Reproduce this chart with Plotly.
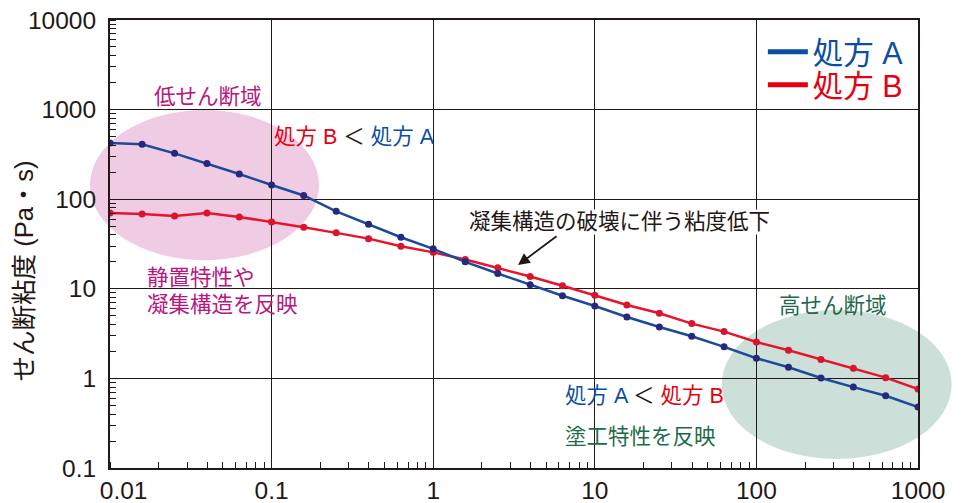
import plotly.graph_objects as go

# shear rate (1/s)
shear_rate = [0.01, 0.0158, 0.0251, 0.0398, 0.0631, 0.1, 0.158, 0.251, 0.398, 0.631,
              1, 1.58, 2.51, 3.98, 6.31, 10, 15.8, 25.1, 39.8, 63.1,
              100, 158, 251, 398, 631, 1000]
# viscosity (Pa·s)
visc_a = [425, 410, 325, 250, 191, 144, 110, 73.3, 52.6, 37.6,
          27.9, 20.0, 14.8, 11.1, 8.37, 6.43, 4.84, 3.75, 2.95, 2.25,
          1.68, 1.33, 1.01, 0.80, 0.64, 0.48]
visc_b = [70.3, 68.5, 65.1, 70.3, 63.4, 55.8, 48.6, 42.1, 36.3, 29.8,
          25.5, 21.2, 17.2, 13.7, 10.8, 8.45, 6.59, 5.33, 4.09, 3.33,
          2.55, 2.06, 1.63, 1.30, 1.02, 0.76]
x_ticks = [0.01, 0.1, 1, 10, 100, 1000]
x_labels = ["\u00a0\u00a0\u00a0\u00a00.01", "0.1", "1", "10", "100", "1000"]
y_ticks = [0.1, 1, 10, 100, 1000, 10000]
y_labels = ["0.1", "1", "10", "100", "1000", "10000"]

BLUE = "#1B4A9A"
BLUE_DOT = "#26287C"
RED = "#E8142C"
RED_DOT = "#D9142E"
MAGENTA = "#B8177E"
GREEN = "#1D6A4B"
INK = "#231815"
FONT = "Liberation Sans, Noto Sans CJK JP, sans-serif"

fig = go.Figure()
fig.add_trace(go.Scatter(x=shear_rate, y=visc_b, mode="lines+markers", showlegend=False,
                         line=dict(color=RED, width=2.5), marker=dict(color=RED_DOT, size=7)))
fig.add_trace(go.Scatter(x=shear_rate, y=visc_a, mode="lines+markers", showlegend=False,
                         line=dict(color=BLUE, width=2.5), marker=dict(color=BLUE_DOT, size=7)))
# legend-only entries (line sample only), one legend box each
fig.add_trace(go.Scatter(x=[None], y=[None], mode="lines", name="<span style='color:#0B4EA2'>処方 A</span>",
                         line=dict(color="#0B4EA2", width=5), legend="legend"))
fig.add_trace(go.Scatter(x=[None], y=[None], mode="lines", name="<span style='color:#E60012'>処方 B</span>",
                         line=dict(color="#E60012", width=5), legend="legend2"))

# shaded regions
fig.add_shape(type="circle", xref="paper", yref="paper", layer="below",
              x0=-0.0248, x1=0.2587, y0=0.464, y1=0.799,
              fillcolor="#EFCCE4", line=dict(width=0))
fig.add_shape(type="circle", xref="paper", yref="paper", layer="below",
              x0=0.757, x1=1.0417, y0=0.020, y1=0.3527,
              fillcolor="#CCDFD8", line=dict(width=0))

def note(text, x, y, color=INK, xanchor="center", bg=None):
    fig.add_annotation(text=text, x=x, y=y, xref="paper", yref="paper", showarrow=False,
                       xanchor=xanchor, yanchor="middle", bgcolor=bg, borderpad=0,
                       font=dict(family=FONT, size=21.5, color=color))

note("低せん断域", 0.121, 0.828, MAGENTA)
note("<span style='color:#E60012'>処方 B</span> ＜ <span style='color:#0B4EA2'>処方 A</span>", 0.302, 0.739)
note("凝集構造の破壊に伴う粘度低下", 0.630, 0.549, INK, bg="white")
note("静置特性や", 0.0446, 0.424, MAGENTA, xanchor="left")
note("凝集構造を反映", 0.0446, 0.364, MAGENTA, xanchor="left")
note("高せん断域", 0.895, 0.3616, GREEN)
note("<span style='color:#0B4EA2'>処方 A</span> ＜ <span style='color:#E60012'>処方 B</span>", 0.562, 0.161, INK, xanchor="left")
note("塗工特性を反映", 0.562, 0.069, GREEN, xanchor="left")

fig.add_annotation(x=0.505, y=0.453, xref="paper", yref="paper", ax=40, ay=-30,
                   text="", showarrow=True, arrowhead=2, arrowsize=1.3, arrowwidth=1.8,
                   arrowcolor=INK)

# y-axis title
fig.add_annotation(text="せん断粘度 (Pa・s)", x=-0.107, y=0.44, xref="paper", yref="paper",
                   showarrow=False, textangle=-90, xanchor="center", yanchor="middle",
                   font=dict(family=FONT, size=25.5, color=INK))

axis_common = dict(type="log", showline=True, linecolor=INK, linewidth=2, mirror=True,
                   showgrid=True, gridcolor=INK, gridwidth=1, ticks="", zeroline=False,
                   automargin=False, ticklabeloverflow="allow",
                   tickfont=dict(family=FONT, size=24.5, color=INK),
                   minor=dict(ticks="inside", ticklen=6, tickcolor=INK, dtick="D1", showgrid=False))

fig.update_xaxes(range=[-2, 3], tickvals=x_ticks, ticktext=x_labels, **axis_common)
fig.update_yaxes(range=[-1, 4], tickvals=y_ticks, ticktext=y_labels, ticklabelstandoff=7,
                 **axis_common)

legend_common = dict(x=0.808, xanchor="left", yanchor="middle", bgcolor="rgba(0,0,0,0)",
                     font=dict(family=FONT, size=30.5), itemwidth=40)

# page body has an 8px margin, so the figure is offset by 8px
fig.update_layout(
    width=954, height=495,
    margin=dict(l=102, r=44, t=12, b=35),
    paper_bgcolor="white", plot_bgcolor="rgba(0,0,0,0)",
    font=dict(family=FONT, color=INK),
    legend=dict(y=0.9286, **legend_common),
    legend2=dict(y=0.855, **legend_common),
)

fig.write_html("out.html")
